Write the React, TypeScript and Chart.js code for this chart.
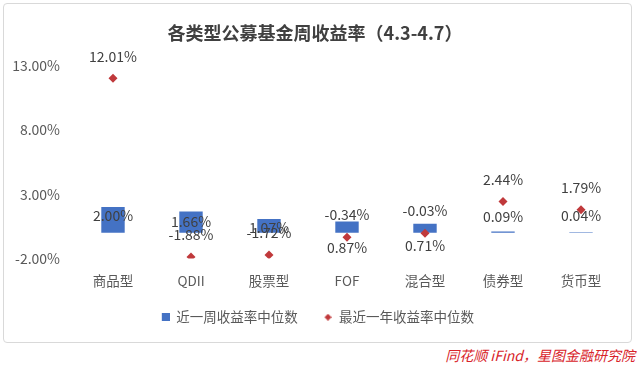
import React, { useEffect, useRef } from "react";
import { Chart, registerables } from "chart.js";

Chart.register(...registerables);

const categories = ["商品型", "QDII", "股票型", "FOF", "混合型", "债券型", "货币型"];
const weekReturn = [2.0, 1.66, 1.07, 0.87, 0.71, 0.09, 0.04];
const yearReturn = [12.01, -1.88, -1.72, -0.34, -0.03, 2.44, 1.79];
const weekLabels = ["2.00%", "1.66%", "1.07%", "0.87%", "0.71%", "0.09%", "0.04%"];
const yearLabels = ["12.01%", "-1.88%", "-1.72%", "-0.34%", "-0.03%", "2.44%", "1.79%"];
const yTicks = [-2, 3, 8, 13];
const seriesNames = ["近一周收益率中位数", "最近一年收益率中位数"];

// label placement (px offsets, styling only)
const barLabelDy = [-4, 0, 2, 21, 17, -16, -17];
const pointLabelDy = -22;

const FONT = '"Noto Sans CJK SC", "Noto Sans", sans-serif';
const BLUE = "#4472C4";
const RED = "#C0393B";

function makeIcon(kind: "square" | "diamond"): HTMLCanvasElement {
  const c = document.createElement("canvas");
  if (kind === "square") {
    c.width = 14;
    c.height = 8;
    const ctx = c.getContext("2d")!;
    ctx.fillStyle = BLUE;
    ctx.fillRect(6, 0, 8, 8);
  } else {
    c.width = 12;
    c.height = 7;
    const ctx = c.getContext("2d")!;
    ctx.fillStyle = RED;
    ctx.beginPath();
    ctx.moveTo(8.5, 0);
    ctx.lineTo(12, 3.5);
    ctx.lineTo(8.5, 7);
    ctx.lineTo(5, 3.5);
    ctx.closePath();
    ctx.fill();
  }
  return c;
}

const labelPlugin = {
  id: "valueLabels",
  afterDatasetsDraw(chart: any) {
    const ctx = chart.ctx;
    ctx.save();
    ctx.font = `14px ${FONT}`;
    ctx.fillStyle = "#404040";
    ctx.textAlign = "center";
    ctx.textBaseline = "middle";
    const barMeta = chart.getDatasetMeta(0);
    barMeta.data.forEach((el: any, i: number) => {
      const cy = (el.y + el.base) / 2;
      ctx.fillText(weekLabels[i], el.x, cy + barLabelDy[i]);
    });
    const ptMeta = chart.getDatasetMeta(1);
    ptMeta.data.forEach((el: any, i: number) => {
      ctx.fillText(yearLabels[i], el.x, el.y + pointLabelDy);
    });
    ctx.restore();
  },
};

export default function App() {
  const ref = useRef<HTMLCanvasElement>(null);
  useEffect(() => {
    document.body.style.margin = "0";
    const sq = makeIcon("square");
    const dm = makeIcon("diamond");
    const chart = new Chart(ref.current!, {
      type: "bar",
      data: {
        labels: categories,
        datasets: [
          {
            type: "bar",
            label: seriesNames[0],
            data: weekReturn,
            backgroundColor: BLUE,
            barPercentage: 1,
            categoryPercentage: 0.3,
            order: 2,
          },
          {
            type: "line",
            label: seriesNames[1],
            data: yearReturn,
            showLine: false,
            pointStyle: "rectRot",
            pointRadius: 4.5,
            pointHoverRadius: 4.5,
            backgroundColor: RED,
            borderColor: RED,
            borderWidth: 0,
            order: 1,
          } as any,
        ],
      },
      options: {
        responsive: false,
        animation: false,
        layout: { padding: { left: 10, right: 20, top: 0, bottom: 11 } },
        plugins: {
          tooltip: { enabled: false },
          title: {
            display: true,
            text: "各类型公募基金周收益率（4.3-4.7）",
            color: "#404040",
            font: { family: FONT, size: 18, weight: "bold" },
            padding: { top: 22, bottom: 22 },
          },
          legend: {
            position: "bottom",
            labels: {
              usePointStyle: true,
              boxHeight: 8,
              color: "#595959",
              font: { family: FONT, size: 13.5 },
              padding: 21,
              generateLabels: () => [
                { text: seriesNames[0], pointStyle: sq, fillStyle: BLUE, strokeStyle: BLUE, lineWidth: 0, hidden: false, datasetIndex: 0, fontColor: "#595959" },
                { text: seriesNames[1], pointStyle: dm, fillStyle: RED, strokeStyle: RED, lineWidth: 0, hidden: false, datasetIndex: 1, fontColor: "#595959" },
              ] as any,
            },
          },
        },
        scales: {
          x: {
            afterFit: (s: any) => {
              s.height = 31;
            },
            grid: { display: false, drawTicks: false },
            border: { display: false },
            ticks: { color: "#595959", font: { family: FONT, size: 13.5 }, padding: 14 },
          },
          y: {
            min: -2,
            max: 13,
            afterFit: (s: any) => {
              s.width = 64;
            },
            afterBuildTicks: (s: any) => {
              s.ticks = yTicks.map((v) => ({ value: v }));
            },
            grid: {
              drawTicks: false,
              color: (c: any) => (c.tick && c.tick.value === 0 ? "#D9D9D9" : "rgba(0,0,0,0)"),
            },
            border: { display: false },
            ticks: {
              color: "#595959",
              font: { family: FONT, size: 14 },
              padding: 14,
              callback: (v: any) => Number(v).toFixed(2) + "%",
            },
          },
        },
      },
      plugins: [labelPlugin],
    });
    return () => chart.destroy();
  }, []);
  return (
    <div style={{ position: "relative", width: 640, height: 370, background: "#fff" }}>
      <div
        style={{
          position: "absolute",
          left: 3,
          top: 3,
          width: 627,
          height: 338,
          border: "1px solid #D9D9D9",
          borderRadius: 4,
        }}
      />
      <canvas ref={ref} width={640} height={345} style={{ position: "absolute", left: 0, top: 0 }} />
      <div
        style={{
          position: "absolute",
          right: 5,
          top: 346,
          color: "#D8232A",
          fontStyle: "italic",
          fontFamily: FONT,
          fontSize: 14,
          lineHeight: "18px",
        }}
      >
        同花顺 iFind，星图金融研究院
      </div>
    </div>
  );
}
